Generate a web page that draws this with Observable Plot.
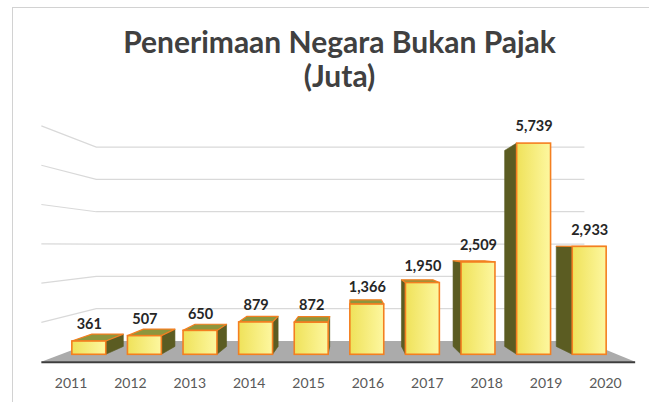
<!DOCTYPE html>
<html>
<head>
<meta charset="utf-8">
<script src="https://cdn.jsdelivr.net/npm/d3@7"></script>
<script src="https://cdn.jsdelivr.net/npm/@observablehq/plot@0.6"></script>
<style>
  html, body { margin: 0; padding: 0; background: #ffffff; }
  #wrap { position: relative; width: 649px; height: 402px; overflow: hidden; }
  #border { position: absolute; left: 12px; top: 7px; right: -2px; bottom: -2px;
            border-left: 1.5px solid #d2d2d2; border-top: 1.5px solid #d2d2d2; pointer-events: none; }
  #chart svg { display: block; }
</style>
</head>
<body>
<div id="wrap"><div id="chart"></div><div id="border"></div></div>
<script>
// ---- data ----
const years = ["2011", "2012", "2013", "2014", "2015", "2016", "2017", "2018", "2019", "2020"];
const values = [361, 507, 650, 879, 872, 1366, 1950, 2509, 5739, 2933];
const valueLabels = ["361", "507", "650", "879", "872", "1,366", "1,950", "2,509", "5,739", "2,933"];
const gridTicks = [1000, 2000, 3000, 4000, 5000, 6000];
const titleLines = ["Penerimaan Negara Bukan Pajak", "(Juta)"];

const data = years.map((year, i) => ({year, value: values[i], label: valueLabels[i]}));

// ---- 3D perspective look (style) ----
const VX = 350, VY = 245;          // vanishing point
const S_BACK = 0.928;              // bar back face depth factor
const S_WALL = 0.878;              // back wall depth factor
const S_FLOOR = 1.068;             // floor front edge depth factor
const proj = (x, y, s) => [VX + s * (x - VX), VY + s * (y - VY)];
const pts = (arr) => arr.map(p => p.join(",")).join(" ");

const COLORS = {
  grid: "#d9d9d9", floor: "#ababab", floorEdge: "#3d3d3d",
  frontA: "#efe25a", frontB: "#fdf7a0", top: "#8e963d", side: "#5b5c22",
  edge: "#f47f20", label: "#262626", tick: "#595959", title: "#404040"
};

function renderGrid(index, scales, values, dims) {
  const g = d3.create("svg:g");
  const X0 = dims.marginLeft, X1 = dims.width - dims.marginRight;
  for (const i of index) {
    const y = values.y[i];
    g.append("polyline")
      .attr("points", pts([proj(X0, y, S_FLOOR), proj(X0, y, S_WALL), proj(X1, y, S_WALL)]))
      .attr("fill", "none").attr("stroke", COLORS.grid).attr("stroke-width", 1.2);
  }
  return g.node();
}

function renderFloor(index, scales, values, dims) {
  const g = d3.create("svg:g");
  const X0 = dims.marginLeft, X1 = dims.width - dims.marginRight;
  for (const i of index) {
    const y = values.y[i];
    const fl = proj(X0, y, S_FLOOR), fr = proj(X1, y, S_FLOOR);
    const br = proj(X1, y, S_WALL), bl = proj(X0, y, S_WALL);
    g.append("polygon").attr("points", pts([fl, fr, br, bl])).attr("fill", COLORS.floor);
    g.append("line").attr("x1", fl[0]).attr("y1", fl[1] + 0.5).attr("x2", fr[0]).attr("y2", fr[1] + 0.5)
      .attr("stroke", COLORS.floorEdge).attr("stroke-width", 2);
  }
  return g.node();
}

function renderBars(index, scales, values, dims) {
  const g = d3.create("svg:g");
  const defs = g.append("defs");
  const grad = defs.append("linearGradient").attr("id", "frontGrad")
    .attr("x1", "0").attr("x2", "1").attr("y1", "0").attr("y2", "0");
  grad.append("stop").attr("offset", "0%").attr("stop-color", COLORS.frontA);
  grad.append("stop").attr("offset", "100%").attr("stop-color", COLORS.frontB);
  const bw = scales.x.bandwidth();
  for (const i of index) {
    const x0 = values.x[i], x1 = x0 + bw;
    const yt = Math.min(values.y1[i], values.y2[i]);
    const yb = Math.max(values.y1[i], values.y2[i]);
    const [bx0, byt] = proj(x0, yt, S_BACK);
    const [bx1, byb] = proj(x1, yb, S_BACK);
    if (x1 < VX) {
      g.append("polygon").attr("points", pts([[x1, yt], [bx1, byt], [bx1, byb], [x1, yb]]))
        .attr("fill", COLORS.side).attr("stroke", COLORS.side).attr("stroke-width", 0.6);
    }
    if (x0 > VX) {
      g.append("polygon").attr("points", pts([[x0, yt], [bx0, byt], [bx0, byb], [x0, yb]]))
        .attr("fill", COLORS.side).attr("stroke", COLORS.side).attr("stroke-width", 0.6);
    }
    if (yt > VY) {
      g.append("polygon").attr("points", pts([[x0, yt], [x1, yt], [bx1, byt], [bx0, byt]]))
        .attr("fill", COLORS.top).attr("stroke", COLORS.edge).attr("stroke-width", 1.2)
        .attr("stroke-linejoin", "round");
    }
    g.append("rect").attr("x", x0).attr("y", yt).attr("width", bw).attr("height", yb - yt)
      .attr("fill", "url(#frontGrad)").attr("stroke", COLORS.edge).attr("stroke-width", 1.6);
  }
  return g.node();
}

function renderYearLabels(index, scales, values, dims) {
  const g = d3.create("svg:g")
    .attr("font-family", "Lato, 'Open Sans', sans-serif").attr("font-size", 14)
    .attr("fill", COLORS.tick).attr("text-anchor", "middle");
  const half = scales.x.bandwidth() / 2;
  for (const i of index) {
    const [x, y] = proj(values.x[i] + half, values.y[i], S_FLOOR);
    g.append("text").attr("x", x).attr("y", y + 26).text(data[i].year);
  }
  return g.node();
}

const chart = Plot.plot({
  width: 649,
  height: 402,
  marginLeft: 61,
  marginRight: 32,
  marginTop: 133.5,
  marginBottom: 47.7,
  x: {type: "band", domain: years, paddingInner: 0.39, paddingOuter: 0.195, round: false, axis: null},
  y: {domain: [0, 6000], axis: null},
  style: {background: "transparent", overflow: "visible"},
  marks: [
    Plot.ruleY(gridTicks, {render: renderGrid}),
    Plot.ruleY([0], {render: renderFloor}),
    Plot.barY(data, {x: "year", y: "value", render: renderBars}),
    Plot.text(data, {x: "year", y: "value", text: "label", dy: -17,
      fontFamily: "Lato, 'Open Sans', sans-serif", fontWeight: "bold", fontSize: 14.5, fill: COLORS.label}),
    Plot.text(data, {x: "year", y: () => 0, text: "year", render: renderYearLabels}),
    Plot.text([titleLines[0]], {frameAnchor: "top", lineAnchor: "middle", dy: -90.5,
      fontFamily: "Lato, 'Open Sans', sans-serif", fontWeight: "bold", fontSize: 30, fill: COLORS.title}),
    Plot.text([titleLines[1]], {frameAnchor: "top", lineAnchor: "middle", dy: -56.5,
      fontFamily: "Lato, 'Open Sans', sans-serif", fontWeight: "bold", fontSize: 30, fill: COLORS.title})
  ]
});
document.getElementById("chart").appendChild(chart);
</script>
</body>
</html>
